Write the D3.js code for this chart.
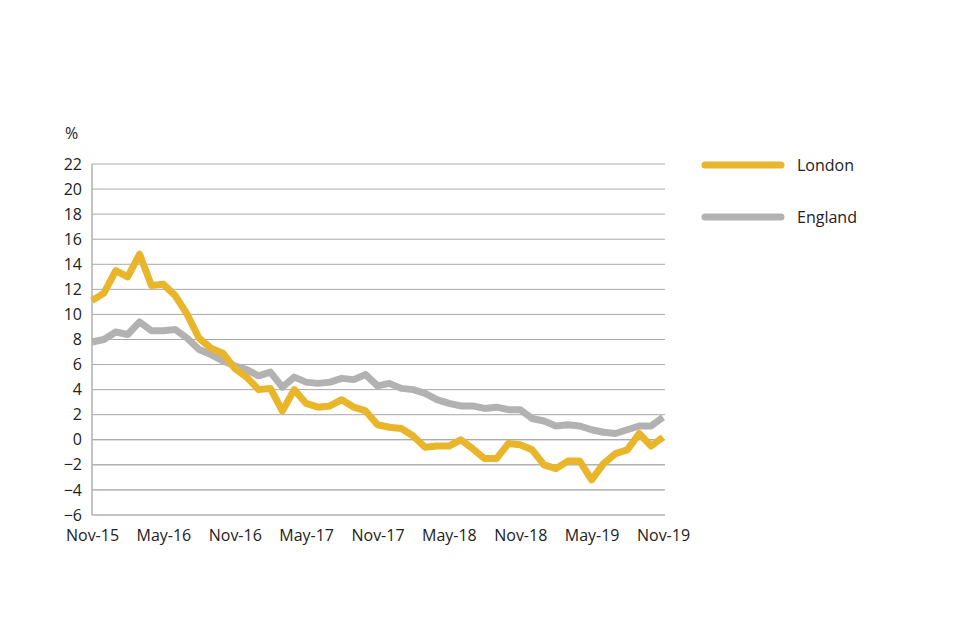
<!DOCTYPE html>
<html><head><meta charset="utf-8">
<script src="https://cdn.jsdelivr.net/npm/d3@7"></script>
<style>body{margin:0;background:#fff}text{font-family:"Open Sans",sans-serif;fill:#222}</style>
</head><body><svg width="960" height="640"></svg>
<script>
const months = ["Nov-15","Dec-15","Jan-16","Feb-16","Mar-16","Apr-16","May-16","Jun-16","Jul-16","Aug-16","Sep-16","Oct-16","Nov-16","Dec-16","Jan-17","Feb-17","Mar-17","Apr-17","May-17","Jun-17","Jul-17","Aug-17","Sep-17","Oct-17","Nov-17","Dec-17","Jan-18","Feb-18","Mar-18","Apr-18","May-18","Jun-18","Jul-18","Aug-18","Sep-18","Oct-18","Nov-18","Dec-18","Jan-19","Feb-19","Mar-19","Apr-19","May-19","Jun-19","Jul-19","Aug-19","Sep-19","Oct-19","Nov-19"];
const london = [11.1,11.7,13.5,13.0,14.8,12.3,12.4,11.5,10.0,8.1,7.3,6.9,5.7,5.0,4.0,4.1,2.3,4.0,2.9,2.6,2.7,3.2,2.6,2.3,1.2,1.0,0.9,0.3,-0.6,-0.5,-0.5,0.0,-0.7,-1.5,-1.5,-0.3,-0.4,-0.8,-2.0,-2.3,-1.7,-1.7,-3.2,-1.9,-1.1,-0.8,0.5,-0.5,0.2];
const england = [7.8,8.0,8.6,8.4,9.4,8.7,8.7,8.8,8.1,7.2,6.8,6.3,5.9,5.6,5.1,5.4,4.2,5.0,4.6,4.5,4.6,4.9,4.8,5.2,4.3,4.5,4.1,4.0,3.7,3.2,2.9,2.7,2.7,2.5,2.6,2.4,2.4,1.7,1.5,1.1,1.2,1.1,0.8,0.6,0.5,0.8,1.1,1.1,1.8];
const yTicks = [-6,-4,-2,0,2,4,6,8,10,12,14,16,18,20,22];
const xTickLabels = ["Nov-15","May-16","Nov-16","May-17","Nov-17","May-18","Nov-18","May-19","Nov-19"];
const series = [{name:"London",values:london,color:"#E9B52B"},{name:"England",values:england,color:"#B2B2B2"}];

const svg = d3.select("svg");
const x = d3.scalePoint().domain(months).range([92,663]);
const y = d3.scaleLinear().domain([-6,22]).range([515,164]);

svg.append("g").selectAll("line").data(yTicks).join("line")
  .attr("x1",92).attr("x2",665).attr("y1",d=>y(d)).attr("y2",d=>y(d))
  .attr("stroke",d=>d<=0?"#8a8a8a":"#a8a8a8").attr("stroke-width",1);
svg.append("line").attr("x1",92).attr("x2",92).attr("y1",164).attr("y2",515).attr("stroke","#b0b0b0").attr("stroke-width",1.5);

const yAxis = svg.append("g").attr("transform","translate(92,0)")
  .call(d3.axisLeft(y).tickValues(yTicks).tickSize(0).tickPadding(10));
yAxis.select(".domain").remove();
yAxis.selectAll("text").style("font-size","16px").style("font-family","'Open Sans',sans-serif").attr("fill","#222");
svg.append("text").attr("x",65).attr("y",139).style("font-size","16px").text("%");

const xAxis = svg.append("g").attr("transform","translate(0,515)")
  .call(d3.axisBottom(x).tickValues(xTickLabels).tickSize(0).tickPadding(15));
xAxis.select(".domain").remove();
xAxis.selectAll("text").style("font-size","16px").style("font-family","'Open Sans',sans-serif").attr("fill","#222");

const line = d3.line().x((d,i)=>x(months[i])).y(d=>y(d));
series.slice().reverse().forEach(s=>{
  svg.append("path").datum(s.values).attr("d",line).attr("fill","none")
    .attr("stroke",s.color).attr("stroke-width",7).attr("stroke-linejoin","round");
});

series.forEach((s,i)=>{
  const ly = 165 + i*52;
  svg.append("line").attr("x1",705).attr("x2",781).attr("y1",ly).attr("y2",ly)
    .attr("stroke",s.color).attr("stroke-width",7).attr("stroke-linecap","round");
  svg.append("text").attr("x",797).attr("y",ly+6).style("font-size","16px").text(s.name);
});
</script></body></html>
